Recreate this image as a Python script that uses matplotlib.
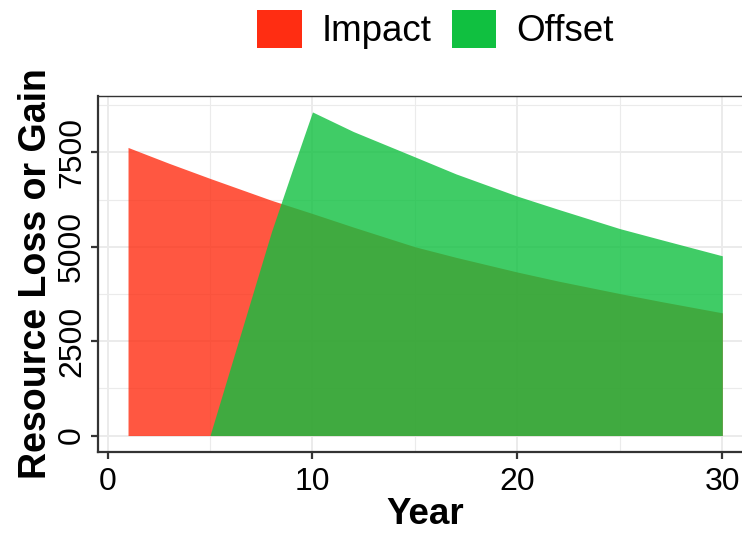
import matplotlib
matplotlib.use("Agg")
import matplotlib.pyplot as plt
from matplotlib.patches import Patch
from matplotlib.ticker import MultipleLocator

plt.rcParams['font.family'] = ['Liberation Sans', 'DejaVu Sans']

impact_years = [1, 3, 5, 8, 10, 12, 15, 17, 20, 22, 25, 27, 30]
impact_vals = [7630, 7210, 6810, 6230, 5880, 5520, 5000, 4720, 4330, 4090, 3760, 3550, 3250]

offset_years = [5, 6, 7, 8, 9, 10, 12, 15, 17, 20, 22, 25, 27, 30]
offset_vals = [0, 1800, 3600, 5400, 7000, 8570, 8050, 7380, 6930, 6340, 5990, 5480, 5190, 4760]

series_names = ["Impact", "Offset"]
series_colors = ["#FF2D12", "#10C040"]

fig = plt.figure(figsize=(7.42, 5.35), dpi=100)
ax = fig.add_axes([0.1325, 0.1557, 0.881, 0.6654])

ax.fill_between(impact_years, impact_vals, 0, color=series_colors[0],
                alpha=0.8, linewidth=0, zorder=2)
ax.fill_between(offset_years, offset_vals, 0, color=series_colors[1],
                alpha=0.8, linewidth=0, zorder=3)

ax.set_xlim(-0.45, 31.45)
ax.set_ylim(-428, 9000)
ax.xaxis.set_major_locator(MultipleLocator(10))
ax.xaxis.set_minor_locator(MultipleLocator(5))
ax.yaxis.set_major_locator(MultipleLocator(2500))
ax.yaxis.set_minor_locator(MultipleLocator(1250))

ax.grid(which='major', color='#EBEBEB', linewidth=1.4, zorder=0)
ax.grid(which='minor', color='#EBEBEB', linewidth=0.8, zorder=0)
ax.set_axisbelow(True)

for s in ax.spines.values():
    s.set_color('#333333')
    s.set_linewidth(1.0)
ax.spines['left'].set_linewidth(1.6)
ax.spines['bottom'].set_linewidth(1.6)

ax.tick_params(which='major', length=5, width=1.6, color='#333333',
               labelsize=23, labelcolor='black')
ax.tick_params(axis='x', pad=6)
ax.tick_params(axis='y', pad=3)
ax.tick_params(which='minor', length=0)
for lab in ax.get_yticklabels():
    lab.set_rotation(90)
    lab.set_va('center')

ax.set_xlabel("Year", fontsize=26.5, fontweight='bold', labelpad=0)
ax.set_ylabel("Resource Loss or Gain", fontsize=27, fontweight='bold', labelpad=2)

handles = [Patch(facecolor=c, edgecolor='none', label=n)
           for n, c in zip(series_names, series_colors)]
fig.legend(handles=handles, loc='center', bbox_to_anchor=(0.587, 0.945), ncol=2,
           frameon=False, fontsize=26.5, handlelength=1.2, handleheight=1.2,
           handletextpad=0.55, columnspacing=0.55)

fig.savefig("out.png", dpi=100)
